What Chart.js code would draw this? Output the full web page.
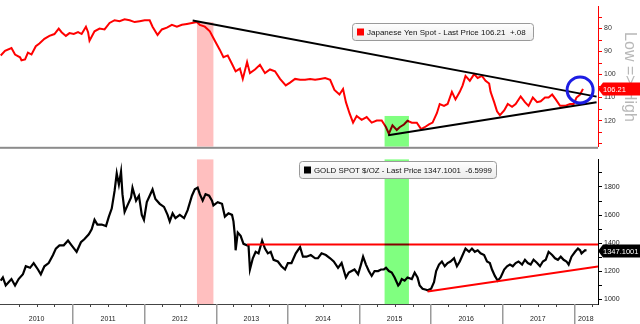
<!DOCTYPE html>
<html>
<head>
<meta charset="utf-8">
<script src="https://cdn.jsdelivr.net/npm/chart.js@4.4.1/dist/chart.umd.min.js"></script>
<style>
  body { margin: 0; background: #fff; }
  #wrap { position: relative; width: 640px; height: 324px; overflow: hidden; }
  canvas { position: absolute; left: 0; }
  #yenChart { top: 0; }
  #goldChart { top: 153px; }
</style>
</head>
<body>
<div id="wrap">
  <canvas id="yenChart" width="640" height="153"></canvas>
  <canvas id="goldChart" width="640" height="171"></canvas>
</div>
<script>
// dates are decimal years
const yearLabels = ['2010', '2011', '2012', '2013', '2014', '2015', '2016', '2017', '2018'];

const yenDates = [
  2010.00, 2010.06, 2010.15, 2010.20, 2010.27, 2010.29, 2010.34, 2010.38, 2010.43, 2010.49,
  2010.54, 2010.61, 2010.68, 2010.75, 2010.81, 2010.85, 2010.91, 2010.96, 2011.02, 2011.08,
  2011.13, 2011.19, 2011.22, 2011.24, 2011.31, 2011.38, 2011.45, 2011.52, 2011.59, 2011.66,
  2011.73, 2011.80, 2011.87, 2011.94, 2012.01, 2012.08, 2012.12, 2012.19, 2012.25, 2012.32,
  2012.39, 2012.46, 2012.53, 2012.60, 2012.67, 2012.74, 2012.78, 2012.85, 2012.92, 2012.99,
  2013.06, 2013.11, 2013.17, 2013.23, 2013.28, 2013.34, 2013.38, 2013.44, 2013.48, 2013.55,
  2013.62, 2013.69, 2013.76, 2013.83, 2013.90, 2013.98, 2014.04, 2014.11, 2014.18, 2014.25,
  2014.32, 2014.39, 2014.46, 2014.53, 2014.60, 2014.66, 2014.73, 2014.78, 2014.82, 2014.87,
  2014.92, 2014.97, 2015.04, 2015.11, 2015.18, 2015.25, 2015.32, 2015.38, 2015.42, 2015.47,
  2015.53, 2015.57, 2015.63, 2015.68, 2015.74, 2015.81, 2015.87, 2015.92, 2015.98, 2016.03,
  2016.09, 2016.13, 2016.19, 2016.24, 2016.30, 2016.35, 2016.41, 2016.45, 2016.49, 2016.55,
  2016.61, 2016.66, 2016.72, 2016.77, 2016.82, 2016.84, 2016.89, 2016.93, 2016.97, 2017.03,
  2017.08, 2017.14, 2017.19, 2017.26, 2017.32, 2017.37, 2017.43, 2017.49, 2017.54, 2017.60,
  2017.65, 2017.70, 2017.75, 2017.81, 2017.88, 2017.95, 2018.00, 2018.04, 2018.09, 2018.13
];
const yenPrice = [
  91.7, 89.7, 88.5, 91.3, 92.5, 93.8, 93.4, 90.5, 91.3, 87.7,
  86.5, 84.5, 83.2, 82.4, 80.0, 81.6, 83.2, 82.0, 82.4, 81.6,
  82.4, 79.2, 81.6, 85.3, 81.2, 80.0, 80.4, 77.6, 76.4, 76.8,
  76.0, 76.4, 77.2, 76.8, 76.4, 76.4, 79.2, 82.8, 80.4, 79.6,
  78.4, 79.2, 78.4, 78.0, 77.6, 77.2, 78.4, 79.2, 81.2, 85.3,
  89.3, 92.5, 91.7, 95.4, 98.6, 97.4, 101.9, 94.6, 99.4, 97.8,
  95.8, 99.4, 97.8, 98.6, 101.9, 104.7, 103.5, 101.9, 102.3, 102.3,
  101.9, 102.3, 101.9, 101.5, 102.3, 106.7, 108.7, 106.3, 112.0, 116.8,
  120.9, 118.0, 119.7, 118.5, 120.9, 120.0, 120.0, 122.9, 125.7, 122.1,
  124.1, 122.9, 121.7, 120.1, 120.9, 120.9, 123.7, 122.9, 121.7, 120.9,
  116.8, 112.8, 113.6, 112.8, 107.5, 110.8, 107.5, 104.7, 100.6, 102.7,
  99.8, 101.5, 100.6, 102.7, 103.9, 107.5, 112.0, 116.0, 117.7, 115.6,
  112.8, 114.0, 112.8, 109.5, 112.0, 113.6, 110.0, 112.0, 111.6, 110.0,
  110.0, 108.7, 110.8, 113.6, 113.6, 112.8, 112.8, 110.0, 108.7, 106.21
];

const goldDates = [
  2010.00, 2010.03, 2010.07, 2010.11, 2010.15, 2010.20, 2010.25, 2010.31, 2010.35, 2010.41,
  2010.46, 2010.52, 2010.56, 2010.61, 2010.67, 2010.73, 2010.77, 2010.82, 2010.88, 2010.94,
  2010.99, 2011.06, 2011.12, 2011.17, 2011.23, 2011.27, 2011.31, 2011.35, 2011.41, 2011.47,
  2011.51, 2011.55, 2011.59, 2011.62, 2011.65, 2011.68, 2011.70, 2011.73, 2011.77, 2011.82,
  2011.84, 2011.89, 2011.93, 2011.97, 2012.00, 2012.04, 2012.08, 2012.12, 2012.16, 2012.22,
  2012.28, 2012.33, 2012.36, 2012.40, 2012.44, 2012.50, 2012.56, 2012.61, 2012.67, 2012.71,
  2012.75, 2012.78, 2012.82, 2012.86, 2012.91, 2012.95, 2012.97, 2013.03, 2013.09, 2013.13,
  2013.18, 2013.23, 2013.25, 2013.27, 2013.28, 2013.31, 2013.35, 2013.39, 2013.44, 2013.46,
  2013.48, 2013.52, 2013.56, 2013.60, 2013.65, 2013.69, 2013.73, 2013.77, 2013.81, 2013.87,
  2013.92, 2013.97, 2014.01, 2014.06, 2014.12, 2014.18, 2014.22, 2014.27, 2014.33, 2014.39,
  2014.43, 2014.48, 2014.54, 2014.60, 2014.65, 2014.71, 2014.76, 2014.82, 2014.86, 2014.90,
  2014.94, 2014.99, 2015.03, 2015.06, 2015.10, 2015.14, 2015.18, 2015.22, 2015.27, 2015.31,
  2015.35, 2015.38, 2015.42, 2015.46, 2015.50, 2015.55, 2015.57, 2015.60, 2015.64, 2015.68,
  2015.74, 2015.78, 2015.82, 2015.85, 2015.89, 2015.94, 2015.96, 2016.01, 2016.05, 2016.08,
  2016.12, 2016.16, 2016.20, 2016.24, 2016.28, 2016.33, 2016.37, 2016.41, 2016.45, 2016.49,
  2016.54, 2016.58, 2016.62, 2016.66, 2016.70, 2016.75, 2016.79, 2016.83, 2016.86, 2016.90,
  2016.94, 2016.98, 2017.03, 2017.07, 2017.11, 2017.15, 2017.19, 2017.23, 2017.28, 2017.32,
  2017.36, 2017.40, 2017.44, 2017.49, 2017.53, 2017.57, 2017.61, 2017.65, 2017.70, 2017.74,
  2017.78, 2017.82, 2017.86, 2017.90, 2017.93, 2017.97, 2018.02, 2018.06, 2018.09, 2018.11,
  2018.16, 2018.18
];
const goldPrice = [
  1132, 1155, 1098, 1121, 1144, 1098, 1144, 1178, 1235, 1224,
  1258, 1212, 1178, 1235, 1258, 1315, 1361, 1384, 1384, 1418,
  1384, 1338, 1406, 1429, 1463, 1498, 1566, 1532, 1532, 1521,
  1589, 1646, 1772, 1897, 1817, 1909, 1749, 1623, 1669, 1726,
  1795, 1703, 1738, 1601, 1566, 1692, 1738, 1783, 1714, 1680,
  1658, 1601, 1555, 1612, 1578, 1601, 1578, 1635, 1738, 1783,
  1795, 1749, 1703, 1749, 1738, 1703, 1669, 1692, 1680, 1589,
  1612, 1601, 1555, 1452, 1349, 1475, 1452, 1395, 1384, 1384,
  1212, 1292, 1338, 1327, 1418, 1361, 1327, 1338, 1281, 1269,
  1235, 1212, 1258, 1258, 1327, 1372, 1303, 1303, 1315, 1292,
  1292, 1327, 1315, 1292, 1269, 1224, 1258, 1155, 1190, 1201,
  1212, 1178, 1247, 1303, 1247, 1201, 1166, 1201, 1201, 1212,
  1212, 1224, 1201, 1190, 1155, 1098, 1110, 1144, 1132, 1155,
  1144, 1190, 1155, 1098, 1075, 1068, 1064, 1075, 1121, 1201,
  1247, 1269, 1235, 1258, 1269, 1292, 1235, 1269, 1315, 1361,
  1338, 1361, 1338, 1349, 1327, 1315, 1269, 1258, 1212, 1166,
  1132, 1155, 1212, 1235, 1247, 1235, 1258, 1269, 1247, 1281,
  1258, 1247, 1281, 1258, 1235, 1269, 1281, 1338, 1315, 1292,
  1281, 1303, 1281, 1269, 1247, 1303, 1338, 1361, 1349, 1327,
  1349, 1347.1001
];

// trend lines: [start, end] as [date, price]
const yenUpperTrend = [[2012.68, 76.5], [2018.32, 109.6]];
const yenLowerTrend = [[2015.41, 126.4], [2018.32, 112.0]];
const goldResistance = [[2013.44, 1390], [2018.34, 1390]];
const goldSupport = [[2015.96, 1055], [2018.34, 1233]];
const yenBreakout = [2018.09, 106.7];

// shaded periods: [from, to]
const pinkPeriod = [2012.74, 2012.97];
const greenPeriod = [2015.36, 2015.70];

const X_MIN = 2009.99, X_MAX = 2018.34;
const FONT = 'Liberation Sans, Arial, sans-serif';

function pts(xs, ys) { return xs.map((x, i) => ({ x: x, y: ys[i] })); }
function seg(pair) { return pair.map(p => ({ x: p[0], y: p[1] })); }

// highlight bands, multiplied over the lines
const bandPlugin = {
  id: 'bands',
  afterDatasetsDraw(chart, args, opts) {
    const { ctx, chartArea: a, scales: { x, y } } = chart;
    ctx.save();
    ctx.beginPath();
    ctx.rect(a.left, a.top, a.width, a.height);
    ctx.clip();
    ctx.globalCompositeOperation = 'multiply';
    opts.bands.forEach(b => {
      const x0 = x.getPixelForValue(b.range[0]);
      const x1 = x.getPixelForValue(b.range[1]);
      const top = b.level == null ? a.top : y.getPixelForValue(b.level);
      ctx.fillStyle = b.color;
      ctx.fillRect(x0, top, x1 - x0, a.bottom - top);
    });
    ctx.restore();
  }
};

// boxed series title + last price tag on the axis
const panelPlugin = {
  id: 'panel',
  afterDraw(chart, args, opts) {
    const { ctx, chartArea: a, scales: { y } } = chart;
    ctx.save();

    if (opts.sideText) {
      ctx.save();
      ctx.translate(629, 77);
      ctx.rotate(Math.PI / 2);
      ctx.font = '16px ' + FONT;
      ctx.fillStyle = '#b8b8b8';
      ctx.textAlign = 'center';
      ctx.textBaseline = 'middle';
      ctx.fillText(opts.sideText, 0, 0);
      ctx.restore();
    }

    // title box
    const b = opts.box;
    const g = ctx.createLinearGradient(0, b.y, 0, b.y + b.h);
    g.addColorStop(0, '#ffffff');
    g.addColorStop(1, '#ececec');
    ctx.beginPath();
    ctx.roundRect(b.x + 0.5, b.y + 0.5, b.w, b.h, 3);
    ctx.fillStyle = g;
    ctx.fill();
    ctx.strokeStyle = '#9a9a9a';
    ctx.lineWidth = 1;
    ctx.stroke();
    ctx.fillStyle = opts.color;
    ctx.fillRect(b.x + 5, b.y + b.h / 2 - 3, 7, 7);
    ctx.fillStyle = '#111';
    ctx.font = '8px ' + FONT;
    ctx.textBaseline = 'middle';
    ctx.textAlign = 'left';
    ctx.fillText(opts.title, b.x + 15, b.y + b.h / 2 + 1, b.w - 19);

    // last price tag
    const ty = Math.round(y.getPixelForValue(opts.last));
    const tx = a.right;
    ctx.beginPath();
    ctx.moveTo(tx, ty);
    ctx.lineTo(tx + 5, ty - 6.5);
    ctx.lineTo(640, ty - 6.5);
    ctx.lineTo(640, ty + 6.5);
    ctx.lineTo(tx + 5, ty + 6.5);
    ctx.closePath();
    ctx.fillStyle = opts.color;
    ctx.fill();
    ctx.fillStyle = '#fff';
    ctx.font = '7.5px ' + FONT;
    ctx.fillText(opts.tag, tx + 5, ty + 0.5);

    if (opts.separator) {
      ctx.fillStyle = '#8c8c8c';
      ctx.fillRect(0, a.bottom, a.right, 2);
    }
    ctx.restore();
  }
};

// year separators and quarter ticks under the lower panel
const timeAxisPlugin = {
  id: 'timeAxis',
  afterDraw(chart) {
    const { ctx, chartArea: a, scales: { x } } = chart;
    ctx.save();
    ctx.fillStyle = '#444';
    ctx.fillRect(a.left, a.bottom, a.right - a.left, 1);
    yearLabels.forEach((lbl, i) => {
      const yr = Number(lbl);
      [0.25, 0.5, 0.75].forEach(q => {
        if (yr + q > X_MAX) return;
        const px = Math.round(x.getPixelForValue(yr + q));
        ctx.fillRect(px, a.bottom, 1, 3);
      });
      if (i > 0) {
        const px = Math.round(x.getPixelForValue(yr));
        ctx.fillStyle = '#9a9a9a';
        ctx.fillRect(px, a.bottom, 1.5, chart.height - a.bottom);
        ctx.fillStyle = '#444';
      }
    });
    ctx.restore();
  }
};

const yAxisWidth = scale => { scale.width = 42; };

new Chart(document.getElementById('yenChart'), {
  type: 'line',
  data: {
    datasets: [
      { type: 'scatter', data: [{ x: yenBreakout[0], y: yenBreakout[1] }], pointRadius: 13, pointHoverRadius: 13,
        pointBorderWidth: 3, pointBorderColor: '#1d1de3', pointBackgroundColor: 'rgba(0,0,0,0)', order: 0 },
      { data: seg(yenUpperTrend), borderColor: '#000', borderWidth: 2, pointRadius: 0, order: 1 },
      { data: seg(yenLowerTrend), borderColor: '#000', borderWidth: 2, pointRadius: 0, order: 1 },
      { data: pts(yenDates, yenPrice), borderColor: '#ff0000', borderWidth: 2, pointRadius: 0, tension: 0, order: 2 }
    ]
  },
  options: {
    responsive: false,
    animation: false,
    layout: { autoPadding: false, padding: { left: 0, right: 0, top: 0, bottom: 2 } },
    plugins: {
      legend: { display: false },
      tooltip: { enabled: false },
      bands: { bands: [
        { range: pinkPeriod, level: 77.2, color: '#ffbfbf' },
        { range: greenPeriod, level: 118, color: '#80ff80' }
      ] },
      panel: {
        box: { x: 352, y: 23, w: 181, h: 17 },
        color: '#ff0000',
        title: 'Japanese Yen Spot - Last Price 106.21  +.08',
        last: yenPrice[yenPrice.length - 1],
        tag: '106.21',
        sideText: 'Low => High',
        separator: true
      }
    },
    scales: {
      x: { type: 'linear', display: false, min: X_MIN, max: X_MAX },
      y: {
        position: 'right', reverse: true, min: 70.3, max: 131.4,
        afterFit: yAxisWidth,
        border: { display: true, color: '#ff0000', width: 1 },
        grid: { drawOnChartArea: false, drawTicks: true, tickLength: 4, color: '#ff0000', tickColor: '#ff0000' },
        ticks: {
          stepSize: 5, includeBounds: false, padding: 2, color: '#333',
          font: { family: FONT, size: 7 },
          callback: v => (v % 10 === 0 && v >= 80 && v <= 120) ? v : ''
        }
      }
    }
  },
  plugins: [bandPlugin, panelPlugin]
});

new Chart(document.getElementById('goldChart'), {
  type: 'line',
  data: {
    datasets: [
      { data: seg(goldResistance), borderColor: '#ff0000', borderWidth: 2, pointRadius: 0, order: 1 },
      { data: seg(goldSupport), borderColor: '#ff0000', borderWidth: 2, pointRadius: 0, order: 1 },
      { data: pts(goldDates, goldPrice), borderColor: '#000', borderWidth: 2.2, pointRadius: 0, tension: 0, order: 2 }
    ]
  },
  options: {
    responsive: false,
    animation: false,
    layout: { autoPadding: false, padding: 0 },
    plugins: {
      legend: { display: false },
      tooltip: { enabled: false },
      bands: { bands: [
        { range: pinkPeriod, color: '#ffbfbf' },
        { range: greenPeriod, color: '#80ff80' }
      ] },
      panel: {
        box: { x: 299, y: 8, w: 197, h: 17 },
        color: '#000',
        title: 'GOLD SPOT $/OZ - Last Price 1347.1001  -6.5999',
        last: goldPrice[goldPrice.length - 1],
        tag: '1347.1001'
      }
    },
    scales: {
      x: {
        type: 'linear', min: X_MIN, max: X_MAX,
        afterBuildTicks: scale => {
          scale.ticks = yearLabels.map(l => {
            const yr = Number(l);
            return { value: (yr + Math.min(yr + 1, X_MAX)) / 2 };
          });
        },
        afterFit: scale => { scale.height = 20; },
        grid: { display: false, drawTicks: false },
        border: { display: false },
        ticks: {
          autoSkip: false, maxRotation: 0, padding: 11, color: '#222',
          font: { family: FONT, size: 7 },
          callback: (v, i) => yearLabels[i]
        }
      },
      y: {
        position: 'right', min: 966, max: 1998,
        afterFit: yAxisWidth,
        border: { display: true, color: '#000', width: 1 },
        grid: { drawOnChartArea: false, drawTicks: true, tickLength: 4, color: '#000', tickColor: '#000' },
        ticks: {
          stepSize: 100, includeBounds: false, padding: 2, color: '#222',
          font: { family: FONT, size: 7 },
          callback: v => (v % 200 === 0) ? v : ''
        }
      }
    }
  },
  plugins: [bandPlugin, panelPlugin, timeAxisPlugin]
});
</script>
</body>
</html>
